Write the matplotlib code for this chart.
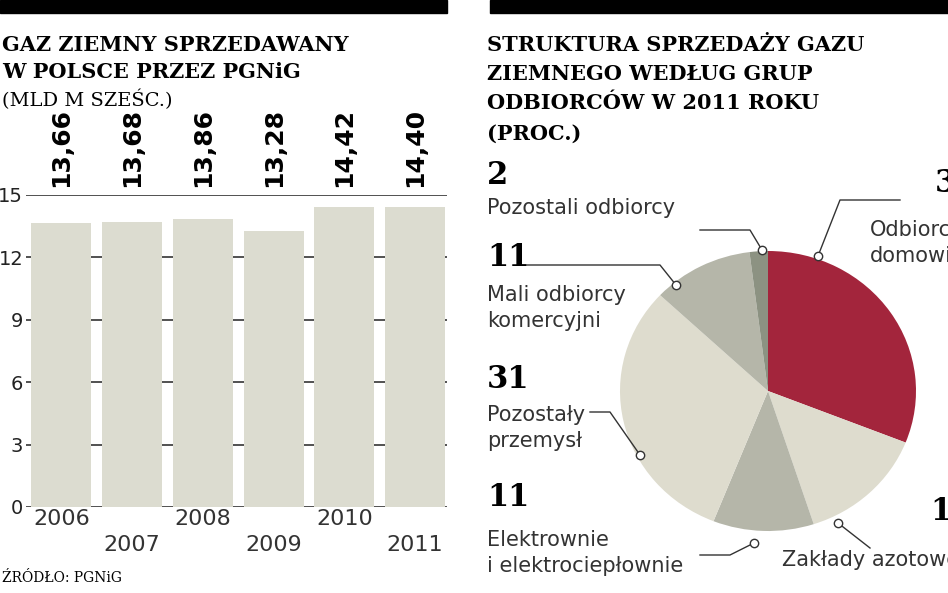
import matplotlib.pyplot as plt
import matplotlib.patches as mpatches

years = ["2006", "2007", "2008", "2009", "2010", "2011"]
sales = [13.66, 13.68, 13.86, 13.28, 14.42, 14.40]
yticks = [0, 3, 6, 9, 12, 15]

groups = ["Odbiorcy domowi", "Zakłady azotowe", "Elektrownie i elektrociepłownie",
          "Pozostały przemysł", "Mali odbiorcy komercyjni", "Pozostali odbiorcy"]
shares = [31, 14, 11, 31, 11, 2]
pie_colors = ["#a3253c", "#dedcce", "#b5b6a9", "#dedcce", "#b5b6a9", "#8c9282"]

W, H = 948, 593
fig = plt.figure(figsize=(W / 100, H / 100), dpi=100)
fig.patch.set_facecolor("white")


def fx(px):
    return px / W


def fy(py):
    return 1 - py / H


# black header strips
fig.add_artist(mpatches.Rectangle((0, fy(13)), fx(447), 13 / H, color="black", transform=fig.transFigure))
fig.add_artist(mpatches.Rectangle((fx(490), fy(13)), fx(458), 13 / H, color="black", transform=fig.transFigure))

serif = "DejaVu Serif"
fig.text(fx(2), fy(45), "GAZ ZIEMNY SPRZEDAWANY", fontsize=15, fontweight="bold", family=serif, va="center")
fig.text(fx(2), fy(72), "W POLSCE PRZEZ PGNiG", fontsize=15, fontweight="bold", family=serif, va="center")
fig.text(fx(2), fy(100), "(MLD M SZEŚC.)", fontsize=14, family=serif, va="center")
fig.text(fx(2), fy(578), "ŹRÓDŁO: PGNiG", fontsize=10, family=serif, va="center")

fig.text(fx(487), fy(45), "STRUKTURA SPRZEDAŻY GAZU", fontsize=15, fontweight="bold", family=serif, va="center")
fig.text(fx(487), fy(74), "ZIEMNEGO WEDŁUG GRUP", fontsize=15, fontweight="bold", family=serif, va="center")
fig.text(fx(487), fy(103), "ODBIORCÓW W 2011 ROKU", fontsize=15, fontweight="bold", family=serif, va="center")
fig.text(fx(487), fy(134), "(PROC.)", fontsize=15, fontweight="bold", family=serif, va="center")

# bar chart
ax = fig.add_axes([fx(26), fy(507), fx(421), 312 / H])
x = list(range(len(years)))
ax.bar(x, sales, width=0.85, color="#dcdcd0", zorder=2)
ax.set_ylim(0, 15)
ax.set_xlim(-0.5, 5.45)
ax.set_yticks(yticks)
ax.set_yticklabels([str(t) for t in yticks], fontsize=14, color="#222222")
ax.tick_params(axis="y", length=0, pad=2)
ax.set_xticks([])
ax.grid(axis="y", color="#333333", linewidth=1.2, zorder=1)
for s in ax.spines.values():
    s.set_visible(False)
for i, v in enumerate(sales):
    ax.text(i, 15.4, f"{v:.2f}".replace(".", ","), rotation=90, ha="center", va="bottom",
            fontsize=18, fontweight="bold", clip_on=False)
    ax.text(i, -0.6 if i % 2 == 0 else -1.85, years[i], ha="center", va="center",
            fontsize=16, color="#333333", clip_on=False)

# pie chart
pax = fig.add_axes([fx(768 - 148), fy(391 + 140), fx(296), 280 / H])
pax.pie(shares, colors=pie_colors, startangle=90, counterclock=False,
        wedgeprops=dict(linewidth=0))
pax.set_aspect("auto")
pax.set_xlim(-1, 1)
pax.set_ylim(-1, 1)

labels = [
    ("3", 935, 183, ["Odbiorcy", "domowi"], 870, 230, [(818, 256), (840, 200), (900, 200)]),
    ("14", 930, 512, ["Zakłady azotowe"], 782, 560, [(838, 523), (870, 548)]),
    ("11", 487, 497, ["Elektrownie", "i elektrociepłownie"], 487, 540, [(754, 543), (730, 555), (700, 555)]),
    ("31", 487, 380, ["Pozostały", "przemysł"], 487, 415, [(640, 455), (610, 412), (590, 412)]),
    ("11", 487, 258, ["Mali odbiorcy", "komercyjni"], 487, 295, [(676, 285), (660, 265), (520, 265)]),
    ("2", 487, 176, ["Pozostali odbiorcy"], 487, 208, [(762, 250), (750, 230), (700, 230)]),
]
for num, nx, ny, lines, tx, ty, pts in labels:
    fig.text(fx(nx), fy(ny), num, fontsize=22, fontweight="bold", family=serif, va="center")
    for k, ln in enumerate(lines):
        fig.text(fx(tx), fy(ty + k * 26), ln, fontsize=15, color="#333333", va="center")
    xs = [fx(p[0]) for p in pts]
    ys = [fy(p[1]) for p in pts]
    fig.add_artist(plt.Line2D(xs, ys, color="#333333", linewidth=1, transform=fig.transFigure))
    fig.add_artist(plt.Line2D([xs[0]], [ys[0]], marker="o", markersize=6, markerfacecolor="white",
                              markeredgecolor="#333333", transform=fig.transFigure))

fig.savefig("out.png", dpi=100, facecolor="white")
